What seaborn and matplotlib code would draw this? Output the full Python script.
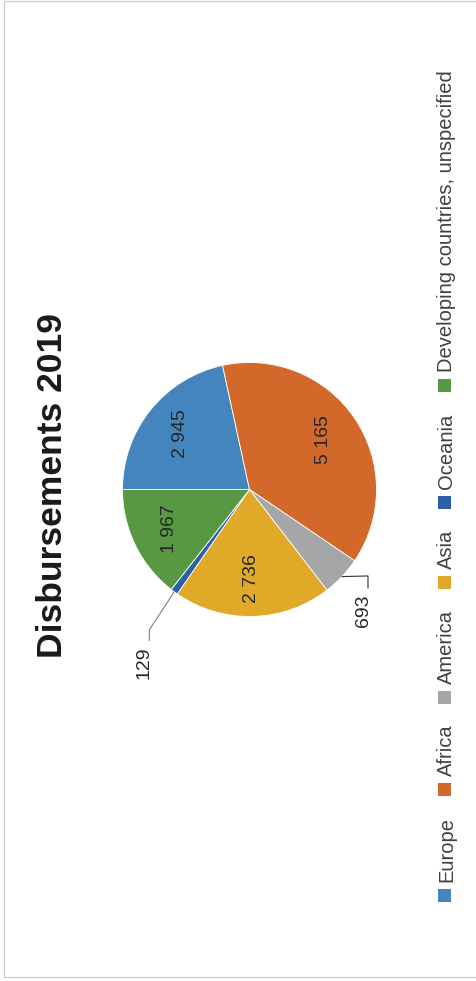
import matplotlib
matplotlib.use("Agg")
import matplotlib.pyplot as plt
from matplotlib.patches import Rectangle
import numpy as np
import seaborn as sns

# data
categories = ["Europe", "Africa", "America", "Asia", "Oceania",
              "Developing countries, unspecified"]
values = [2945, 5165, 693, 2736, 129, 1967]
value_labels = ["2 945", "5 165", "693", "2 736", "129", "1 967"]
colors = ["#4485BD", "#D2692A", "#A5A6A8", "#E0AA28", "#2D5FA6", "#589843"]
title = "Disbursements 2019"

sns.set_theme(style="white")
plt.rcParams["font.family"] = ["Liberation Sans", "DejaVu Sans"]

W, H = 477, 981
fig = plt.figure(figsize=(W / 100, H / 100), dpi=100)

# light frame round the chart area
fig.patches.append(Rectangle((4.5 / W, 4.5 / H), (W + 5) / W, (H - 5) / H,
                             transform=fig.transFigure, fill=False,
                             edgecolor="#c8c8c8", linewidth=0.8))

# pie (whole chart is turned 90 degrees counter-clockwise)
cx, cy, R = 249.5, 489.5, 127
half = 135
ax = fig.add_axes([(cx - half) / W, (H - cy - half) / H, 2 * half / W, 2 * half / H])
palette = sns.color_palette(colors)
wedges, _ = ax.pie(values, colors=palette, startangle=180, counterclock=False,
                   wedgeprops=dict(edgecolor="white", linewidth=0.6))
lim = half / R
ax.set_xlim(-lim, lim)
ax.set_ylim(-lim, lim)
ax.set_aspect("equal")
ax.axis("off")

# leader lines for the two small slices: (elbow, end, text) in pie units
leaders = {
    2: ((0.933, -0.681), (0.933, -0.776), (0.898, -0.957), "#333333"),
    4: ((-0.789, -1.106), (-0.789, -1.191), (-0.827, -1.362), "#808080"),
}

for i, w in enumerate(wedges):
    mid = np.deg2rad((w.theta1 + w.theta2) / 2)
    if i in leaders:
        elbow, end, txt, lc = leaders[i]
        sx, sy = np.cos(mid), np.sin(mid)
        ax.plot([sx, elbow[0], end[0]], [sy, elbow[1], end[1]], color=lc,
                linewidth=0.8, clip_on=False)
        ax.text(txt[0], txt[1], value_labels[i], rotation=90, ha="center",
                va="center", fontsize=14, color="#262626", clip_on=False)
    else:
        r = 0.70
        ax.text(r * np.cos(mid), r * np.sin(mid), value_labels[i], rotation=90,
                ha="center", va="center", fontsize=14, color="#262626")

# title on the left, reading bottom to top
fig.text(62 / W, (H - 485) / H, title, rotation=90, rotation_mode="anchor",
         ha="center", va="baseline", fontsize=25.5, fontweight="bold",
         color="#1a1a1a")

# legend down the right side, laid out from the measured text lengths
renderer = fig.canvas.get_renderer()
box, pad_in, pad_out = 13, 7, 21
texts = [fig.text(0, 0, name, rotation=90, rotation_mode="anchor", ha="left",
                  va="baseline", fontsize=14.5, color="#404040")
         for name in categories]
lengths = [t.get_window_extent(renderer).height for t in texts]
total = sum(box + pad_in + L for L in lengths) + pad_out * (len(categories) - 1)
y = 486.5 + total / 2
for col, t, L in zip(palette, texts, lengths):
    fig.patches.append(Rectangle((438 / W, (H - y) / H), box / W, box / H,
                                 transform=fig.transFigure, facecolor=col,
                                 edgecolor="none"))
    y -= box + pad_in
    t.set_position((452 / W, (H - y) / H))
    y -= L + pad_out

fig.savefig("out.png", dpi=100)
